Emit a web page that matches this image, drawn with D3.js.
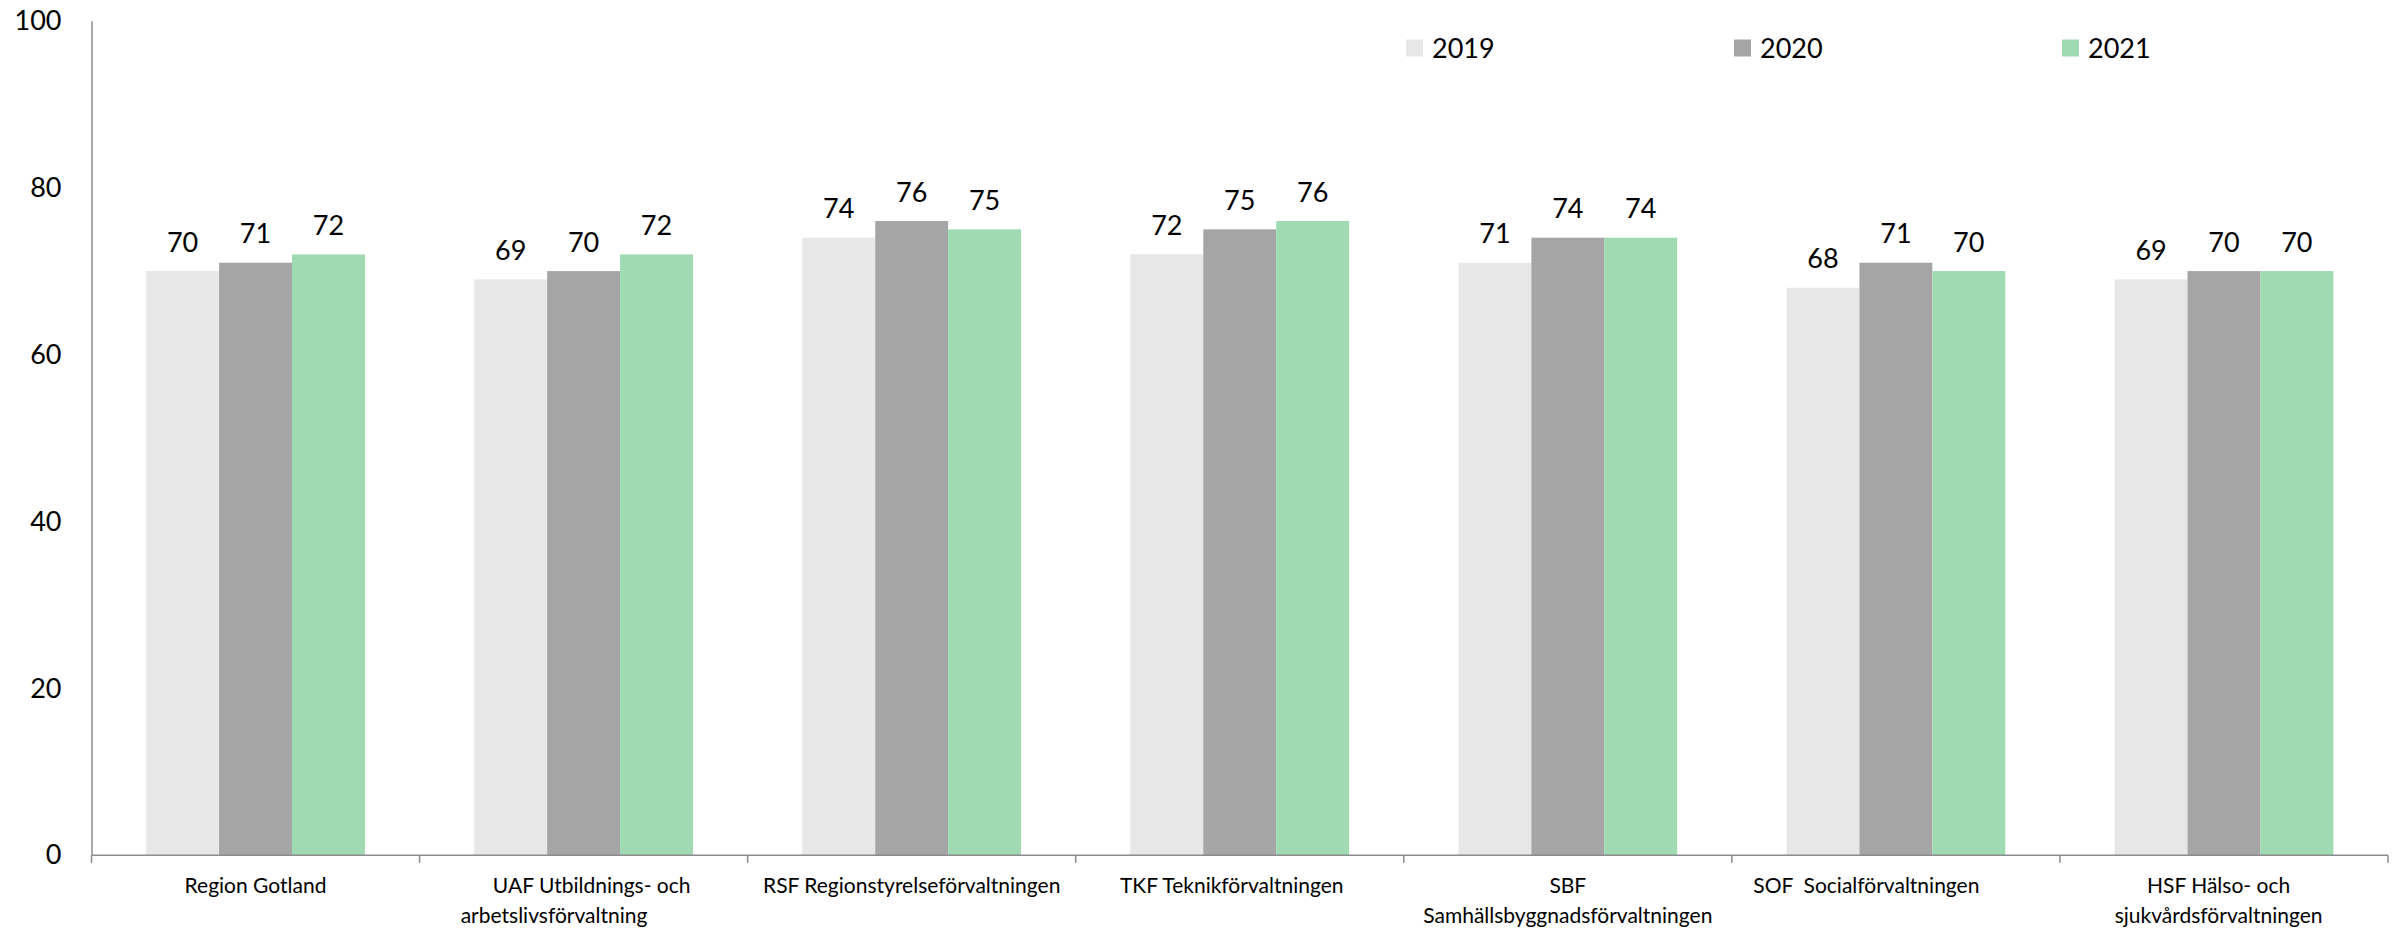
<!DOCTYPE html>
<html>
<head>
<meta charset="utf-8">
<script src="https://cdn.jsdelivr.net/npm/d3@7"></script>
<style>
    body { margin: 0; background: #fff; }
    svg { display: block; font-family: Lato, "Open Sans", sans-serif; }
    .cat-label { white-space: pre; }
</style>
</head>
<body>
<div id="chart"></div>
<script>
// kategorier (förvaltningar), varje rad i etiketten som egen sträng
const categories = [
    ["Region Gotland"],
    ["   UAF Utbildnings- och", "arbetslivsförvaltning           "],
    ["RSF Regionstyrelseförvaltningen"],
    ["TKF Teknikförvaltningen   "],
    ["SBF", "Samhällsbyggnadsförvaltningen"],
    ["SOF  Socialförvaltningen           "],
    ["HSF Hälso- och  ", "sjukvårdsförvaltningen  "]
];
const years = ["2019", "2020", "2021"];

// värden per år
const values2019 = [70, 69, 74, 72, 71, 68, 69];
const values2020 = [71, 70, 76, 75, 74, 71, 70];
const values2021 = [72, 72, 75, 76, 74, 70, 70];

const yTicks = [0, 20, 40, 60, 80, 100];
const colors = ["#e7e7e7", "#a5a5a5", "#a0dab3"];

const seriesValues = [values2019, values2020, values2021];
const catKeys = categories.map(c => c.join(" "));

const width = 2400, height = 929;
const svg = d3.select('#chart').append('svg')
    .attr('width', width)
    .attr('height', height);

// skalor
const x = d3.scaleBand()
    .domain(catKeys)
    .range([91.5, 2388])
    .paddingInner(0)
    .paddingOuter(0);

const xInner = d3.scaleBand()
    .domain(years)
    .range([0, x.bandwidth()])
    .paddingInner(0)
    .paddingOuter(0.75);

const y = d3.scaleLinear()
    .domain([0, 100])
    .range([855.3, 20.7]);

const axisColor = '#8c8c8c';

// staplar
const groups = svg.selectAll('.group')
    .data(catKeys)
    .enter()
    .append('g')
    .attr('class', 'group')
    .attr('transform', d => `translate(${x(d)},0)`);

groups.each(function(cat, i) {
    const g = d3.select(this);
    const rows = years.map((yr, s) => ({ year: yr, value: seriesValues[s][i], color: colors[s] }));

    g.selectAll('rect')
        .data(rows)
        .enter()
        .append('rect')
        .attr('x', d => xInner(d.year))
        .attr('width', xInner.bandwidth())
        .attr('y', d => y(d.value))
        .attr('height', d => y(0) - y(d.value))
        .attr('fill', d => d.color);

    g.selectAll('.value-label')
        .data(rows)
        .enter()
        .append('text')
        .attr('class', 'value-label')
        .attr('x', d => xInner(d.year) + xInner.bandwidth() / 2)
        .attr('y', d => y(d.value) - 19.5)
        .attr('text-anchor', 'middle')
        .style('font-size', '27px')
        .style('fill', '#000')
        .text(d => d.value);
});

// y-axel
const yAxis = svg.append('g')
    .attr('transform', `translate(${x.range()[0]},0)`)
    .call(d3.axisLeft(y).tickValues(yTicks).tickSize(0).tickPadding(30));

yAxis.select('.domain').attr('stroke', axisColor).attr('stroke-width', 1.5);
yAxis.selectAll('text')
    .style('font-size', '27px')
    .style('font-family', 'Lato, "Open Sans", sans-serif')
    .attr('fill', '#000');

// x-axel
svg.append('line')
    .attr('x1', x.range()[0])
    .attr('x2', x.range()[1])
    .attr('y1', y(0))
    .attr('y2', y(0))
    .attr('stroke', axisColor)
    .attr('stroke-width', 1.5);

const boundaries = catKeys.map(c => x(c)).concat([x.range()[1]]);
svg.selectAll('.x-tick')
    .data(boundaries)
    .enter()
    .append('line')
    .attr('class', 'x-tick')
    .attr('x1', d => d)
    .attr('x2', d => d)
    .attr('y1', y(0))
    .attr('y2', y(0) + 7.5)
    .attr('stroke', axisColor)
    .attr('stroke-width', 1.5);

// kategorietiketter
const catLabels = svg.selectAll('.cat-label')
    .data(categories)
    .enter()
    .append('text')
    .attr('class', 'cat-label')
    .attr('text-anchor', 'middle')
    .style('font-size', '21px')
    .style('fill', '#000');

catLabels.each(function(lines, i) {
    const cx = x(catKeys[i]) + x.bandwidth() / 2;
    d3.select(this).selectAll('tspan')
        .data(lines)
        .enter()
        .append('tspan')
        .attr('x', cx)
        .attr('y', (d, j) => 893 + j * 29.5)
        .text(d => d);
});

// legend
const legendX = [1406, 1734, 2062];
const legend = svg.selectAll('.legend-item')
    .data(years)
    .enter()
    .append('g')
    .attr('class', 'legend-item')
    .attr('transform', (d, i) => `translate(${legendX[i]},39.5)`);

legend.append('rect')
    .attr('width', 17)
    .attr('height', 17)
    .attr('fill', (d, i) => colors[i]);

legend.append('text')
    .attr('x', 26)
    .attr('y', 18)
    .style('font-size', '27px')
    .style('fill', '#000')
    .text(d => d);
</script>
</body>
</html>
